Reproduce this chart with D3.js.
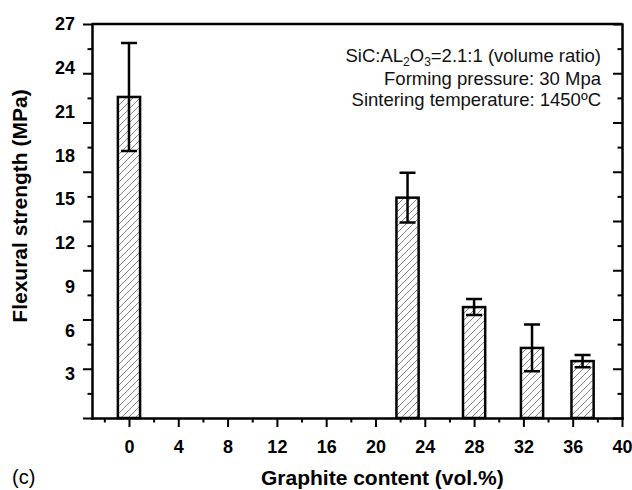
<!DOCTYPE html>
<html>
<head>
<meta charset="utf-8">
<script src="https://cdn.jsdelivr.net/npm/d3@7"></script>
<style>
  body { margin: 0; background: #fff; }
  svg { display: block; font-family: "Liberation Sans", Arial, sans-serif; }
</style>
</head>
<body>
<div id="chart"></div>
<script>
// *** data ***
var contents = [0, 22.6, 28, 32.7, 36.8];      // graphite content (vol.%)
var strength = [22.0, 15.1, 7.6, 4.8, 3.9];    // flexural strength (MPa)
var errors   = [3.7, 1.7, 0.55, 1.6, 0.42];    // +/- error
var xTickLabels = [0, 4, 8, 12, 16, 20, 24, 28, 32, 36, 40];
var yTickLabels = [3, 6, 9, 12, 15, 18, 21, 24, 27];
var notes = ["Forming pressure: 30 Mpa", "Sintering temperature: 1450ºC"];

var width = 632, height = 490;
var margin = {top: 24, right: 10, bottom: 72, left: 92};
var barWidth = 1.8;   // in x units
var capWidth = 16;    // px

var svg = d3.select("#chart").append("svg")
    .attr("width", width)
    .attr("height", height);

var x = d3.scaleLinear().domain([-3, 40]).range([margin.left, width - margin.right]);
var y = d3.scaleLinear().domain([0, 27]).range([height - margin.bottom, margin.top]);

// hatch pattern for the bars
svg.append("defs").append("pattern")
    .attr("id", "hatch")
    .attr("patternUnits", "userSpaceOnUse")
    .attr("width", 7).attr("height", 7)
  .append("path")
    .attr("d", "M0,7 L7,0 M-1,1 L1,-1 M6,8 L8,6")
    .attr("stroke", "#666")
    .attr("stroke-width", 0.8);

// *** bars ***
var bars = svg.append("g");
bars.selectAll("rect")
    .data(contents)
  .enter().append("rect")
    .attr("x", function(d) { return x(d - barWidth / 2); })
    .attr("y", function(d, i) { return y(strength[i]); })
    .attr("width", x(barWidth) - x(0))
    .attr("height", function(d, i) { return y(0) - y(strength[i]); })
    .attr("fill", "url(#hatch)")
    .attr("stroke", "#000")
    .attr("stroke-width", 2.5);

// *** error bars ***
var err = svg.append("g").attr("stroke", "#000").attr("stroke-width", 2.5).attr("fill", "none");
contents.forEach(function(c, i) {
    var cx = x(c), hi = y(strength[i] + errors[i]), lo = y(strength[i] - errors[i]);
    err.append("path")
        .attr("d", "M" + cx + "," + hi + "V" + lo
            + "M" + (cx - capWidth / 2) + "," + hi + "H" + (cx + capWidth / 2)
            + "M" + (cx - capWidth / 2) + "," + lo + "H" + (cx + capWidth / 2));
});

// *** axes ***
// tick marks on y run in 16 steps, labels sit on the 3 MPa values
var yTicks = d3.range(0, 17).map(function(i) { return i * 27 / 16; });

var yLeft = svg.append("g")
    .attr("transform", "translate(" + margin.left + ",0)")
    .call(d3.axisLeft(y).tickValues(yTicks).tickFormat("").tickSize(9).tickSizeOuter(0));
yLeft.selectAll(".tick line")
    .attr("x2", function(d, i) { return i % 2 ? -4.5 : -9; });

var yLabels = svg.append("g")
    .attr("transform", "translate(" + margin.left + ",0)")
    .call(d3.axisLeft(y).tickValues(yTickLabels).tickSize(0).tickPadding(17));
yLabels.select(".domain").remove();

var yRight = svg.append("g")
    .attr("transform", "translate(" + (width - margin.right) + ",0)")
    .call(d3.axisRight(y).tickValues(yTicks).tickFormat("").tickSize(-9).tickSizeOuter(0));
yRight.selectAll(".tick line")
    .attr("x2", function(d, i) { return i % 2 ? -4.5 : -9; });

var xBottom = svg.append("g")
    .attr("transform", "translate(0," + y(0) + ")")
    .call(d3.axisBottom(x).tickValues(d3.range(-2, 40.1, 2)).tickSize(9).tickSizeOuter(0).tickPadding(13)
        .tickFormat(function(d) { return xTickLabels.indexOf(d) >= 0 ? d : ""; }));
xBottom.selectAll(".tick line")
    .attr("y2", function(d) { return d % 4 ? 4.5 : 9; });

svg.append("line")
    .attr("x1", x(-3)).attr("x2", x(40))
    .attr("y1", y(27)).attr("y2", y(27))
    .attr("stroke", "#000").attr("stroke-width", 2.5);

svg.selectAll(".domain").attr("stroke-width", 2.5).attr("stroke-linecap", "square");
svg.selectAll(".tick line").attr("stroke-width", 2);
svg.selectAll(".tick text")
    .attr("font-family", "'Liberation Sans', Arial, sans-serif")
    .attr("font-size", 18)
    .attr("font-weight", "bold")
    .attr("fill", "#000");

// *** titles ***
svg.append("text")
    .attr("transform", "translate(27," + 206 + ") rotate(-90)")
    .attr("text-anchor", "middle")
    .attr("font-size", 21)
    .attr("font-weight", "bold")
    .text("Flexural strength (MPa)");

svg.append("text")
    .attr("x", 261).attr("y", 485)
    .attr("font-size", 21)
    .attr("font-weight", "bold")
    .text("Graphite content (vol.%)");

svg.append("text")
    .attr("x", 12).attr("y", 484)
    .attr("font-size", 20)
    .text("(c)");

// *** annotation ***
var note = svg.append("g")
    .attr("text-anchor", "end")
    .attr("font-size", 18.5)
    .attr("fill", "#111");

var first = note.append("text").attr("x", 601).attr("y", 62);
first.append("tspan").text("SiC:AL");
first.append("tspan").attr("font-size", 12).attr("dy", 4).text("2");
first.append("tspan").attr("dy", -4).text("O");
first.append("tspan").attr("font-size", 12).attr("dy", 4).text("3");
first.append("tspan").attr("dy", -4).text("=2.1:1 (volume ratio)");

note.selectAll("text.line")
    .data(notes)
  .enter().append("text")
    .attr("class", "line")
    .attr("x", 601)
    .attr("y", function(d, i) { return 85 + i * 21; })
    .text(function(d) { return d; });
</script>
</body>
</html>
